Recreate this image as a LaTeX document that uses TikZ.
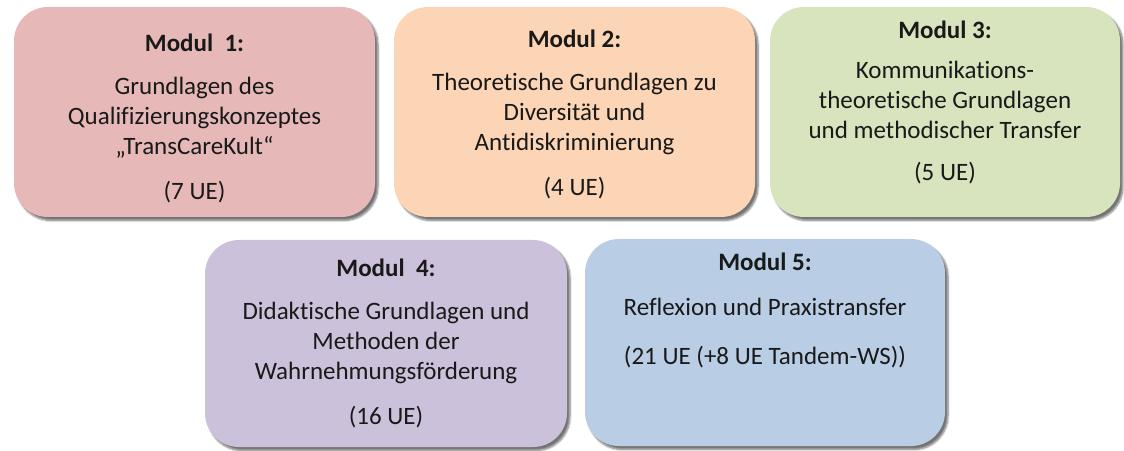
\documentclass[tikz,border=0pt]{standalone}
\usepackage{fontspec}
\setmainfont{Carlito}[Ligatures=CommonOff]
\usetikzlibrary{shadows.blur}

\definecolor{modred}{HTML}{E6B9B8}
\definecolor{modorange}{HTML}{FBD5B5}
\definecolor{modgreen}{HTML}{D7E4BD}
\definecolor{modviolet}{HTML}{CCC1DA}
\definecolor{modblue}{HTML}{B9CDE5}

\begin{document}
\begin{tikzpicture}
  [x=1pt,y=1pt,
   modbox/.style={rectangle,rounded corners=34pt,minimum height=210pt,
     blur shadow={shadow xshift=3pt,shadow yshift=-3.5pt,shadow blur steps=6,shadow opacity=55}},
   modtext/.style={align=center,text=black!90,font=\fontsize{25}{30}\selectfont}]
  \useasboundingbox (0,0) rectangle (1124,450);

  % upper row
  \node[modbox,fill=modred,minimum width=361pt] (m1) at (194.5,338) {};
  \node[modbox,fill=modorange,minimum width=361pt] (m2) at (574.5,338) {};
  \node[modbox,fill=modgreen,minimum width=350pt] (m3) at (945,338) {};
  % lower row
  \node[modbox,fill=modviolet,minimum width=362pt,minimum height=207pt] (m4) at (386,106.5) {};
  \node[modbox,fill=modblue,minimum width=360pt,minimum height=207pt] (m5) at (765,107.5) {};

  \node[modtext] (t1) at ([yshift=-6pt]m1.center)
    {\textbf{Modul~~1:}\\[13pt]Grundlagen des\\Qualifizierungskonzeptes\\„TransCareKult“\\[15pt](7 UE)};
  \node[modtext] (t2) at ([yshift=-2.5pt]m2.center)
    {\textbf{Modul 2:}\\[13pt]Theoretische Grundlagen zu\\Diversität und\\Antidiskriminierung\\[15pt](4 UE)};
  \node[modtext] (t3) at ([yshift=10pt]m3.center)
    {\textbf{Modul 3:}\\[10pt]Kommunikations-\\theoretische Grundlagen\\und methodischer Transfer\\[12pt](5 UE)};
  \node[modtext] (t4) at ([yshift=0pt]m4.center)
    {\textbf{Modul~~4:}\\[13pt]Didaktische Grundlagen und\\Methoden der\\Wahrnehmungsförderung\\[15pt](16 UE)};
  \node[modtext] (t5) at ([yshift=32pt]m5.center)
    {\textbf{Modul 5:}\\[15pt]Reflexion und Praxistransfer\\[19pt](21 UE (+8 UE Tandem-WS))};

\end{tikzpicture}
\end{document}
